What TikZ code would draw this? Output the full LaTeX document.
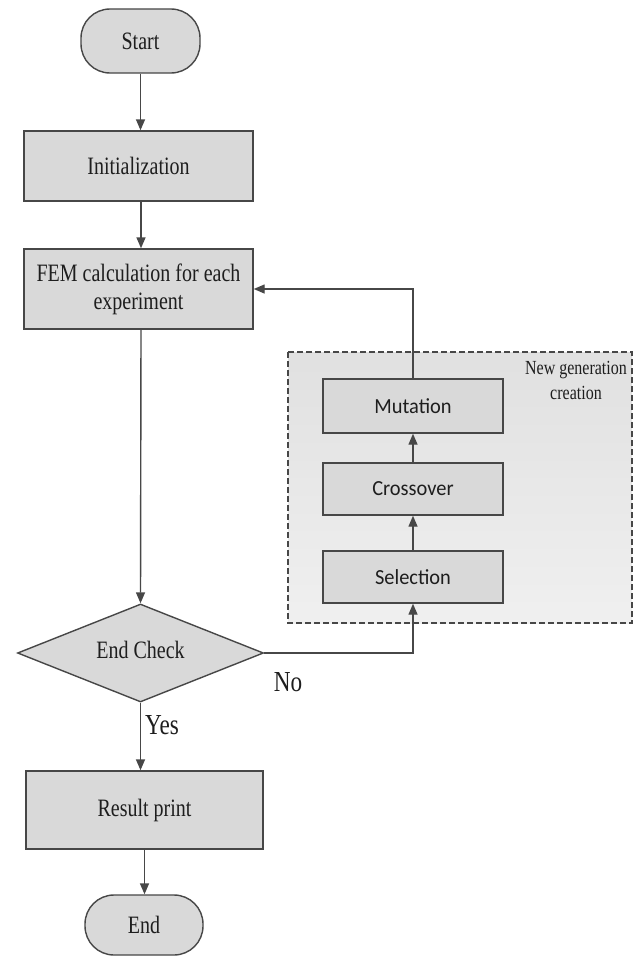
\documentclass[tikz,border=0pt]{standalone}
\usepackage{fontspec}
\setmainfont{Liberation Serif}[FakeStretch=0.8]
\newfontfamily\sansf{Carlito}[FakeStretch=0.95]
\usetikzlibrary{arrows.meta,shapes.geometric,calc}
\definecolor{boxfill}{HTML}{D9D9D9}
\definecolor{edge}{HTML}{474747}
\definecolor{txt}{HTML}{1E1E1E}
\tikzset{
  base/.style={draw=edge, line width=1.4pt, fill=boxfill, text=txt, inner sep=0pt, align=center,
    font=\fontsize{25}{28}\selectfont},
  pill/.style={base, rectangle, rounded corners=29pt},
  procbox/.style={base, rectangle},
  gabox/.style={base, rectangle, minimum width=180pt, font=\sansf\fontsize{21.5}{24}\selectfont},
  decision/.style={base, diamond, aspect=2.5},
  arr/.style={draw=edge, line width=1.4pt, -{Triangle[length=11pt,width=9pt]}},
  lbl/.style={text=txt, inner sep=0pt, font=\fontsize{29}{32}\selectfont},
}
\begin{document}
\begin{tikzpicture}[x=1pt,y=-1pt]
\useasboundingbox (0,0) rectangle (643,958);
\fill[white] (0,0) rectangle (643,958);
% group
\shade[top color=black!12, bottom color=black!6] (288,352) rectangle (632,623);
\draw[edge, line width=1.1pt, dash pattern=on 6pt off 3pt] (288,352) rectangle (632,623);
\node[text=txt, align=center, font=\fontsize{20}{25}\selectfont] (grp) at (576,380) {New generation\\creation};
% main nodes
\node[pill, minimum width=119pt, minimum height=64pt] (start) at (140.5,41) {Start};
\node[procbox, minimum width=229pt, minimum height=70pt] (init) at (138.5,166) {Initialization};
\node[procbox, minimum width=229pt, minimum height=80pt] (fem) at (138.5,289) {FEM calculation for each\\experiment};
\node[decision, minimum width=246pt, minimum height=98pt] (chk) at (140.5,653) {};
\node[text=txt, font=\fontsize{25}{28}\selectfont] (chkt) at (140.5,650) {End Check};
\node[procbox, minimum width=237pt, minimum height=78pt] (res) at (144.5,810) {Result print};
\node[pill, minimum width=118pt, minimum height=60pt] (end) at (144,925) {End};
% GA nodes
\node[gabox, minimum height=54pt] (mut) at (413,406) {Mutation};
\node[gabox, minimum height=52pt] (cross) at (413,489) {Crossover};
\node[gabox, minimum height=52pt] (sel) at (413,577) {Selection};
% connectors
\coordinate (c1) at (141,0);
\draw[arr] (start.south) -- (start.south |- init.north);
\draw[arr] (c1 |- init.south) -- (c1 |- fem.north);
\draw[arr] (c1 |- fem.south) -- (chk.north);
\draw[arr] (chk.south) -- (chk.south |- res.north);
\draw[arr] (res.south) -- (res.south |- end.north);
\draw[arr] (mut.north) |- (fem.east);
\draw[arr] (cross.north) -- (mut.south);
\draw[arr] (sel.north) -- (cross.south);
\draw[arr] (chk.east) -| (sel.south);
% labels
\node[lbl] (no) at (288,682) {No};
\node[lbl] (yes) at (162,725) {Yes};
\end{tikzpicture}
\end{document}
